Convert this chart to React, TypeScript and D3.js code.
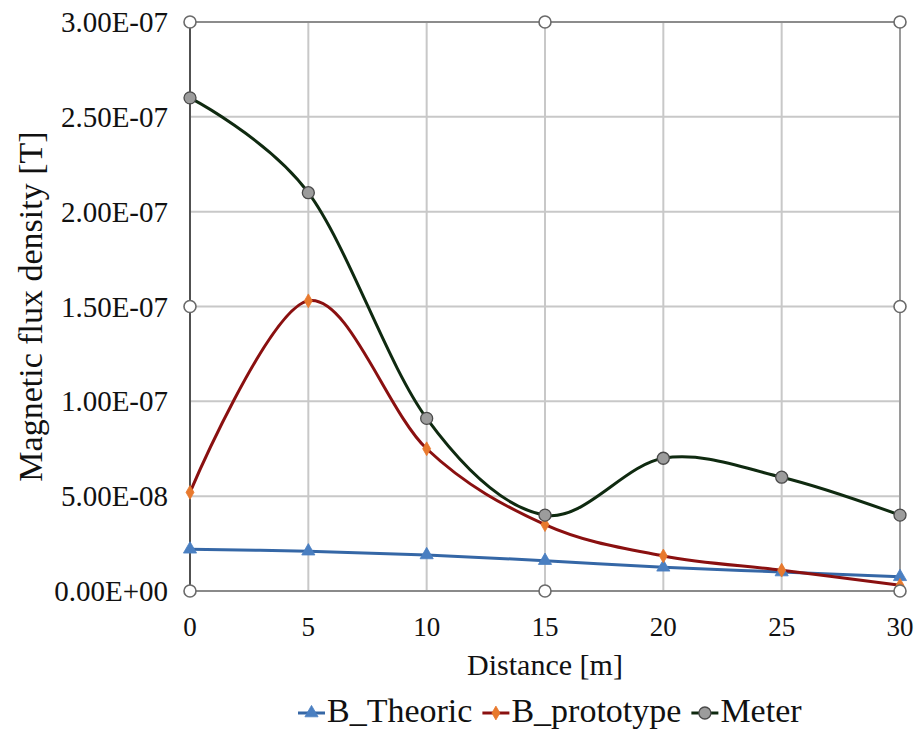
import * as d3 from "d3";

const distances = [0, 5, 10, 15, 20, 25, 30];
const bTheoric = [2.2e-8, 2.1e-8, 1.9e-8, 1.6e-8, 1.25e-8, 1.0e-8, 7.5e-9];
const bPrototype = [5.2e-8, 1.53e-7, 7.5e-8, 3.5e-8, 1.85e-8, 1.1e-8, 3e-9];
const meter = [2.6e-7, 2.1e-7, 9.1e-8, 4.0e-8, 7.0e-8, 6.0e-8, 4.0e-8];

const xTicks = [0, 5, 10, 15, 20, 25, 30];
const yTicks = [0, 5e-8, 1e-7, 1.5e-7, 2e-7, 2.5e-7, 3e-7];

const W = 916;
const H = 733;
const FONT = "Liberation Serif, DejaVu Serif, serif";

// Excel style 0.00E+00
function sci(v: number) {
  if (v === 0) return "0.00E+00";
  const e = Math.floor(Math.log10(Math.abs(v)) + 1e-9);
  const m = v / Math.pow(10, e);
  const sign = e < 0 ? "-" : "+";
  return `${m.toFixed(2)}E${sign}${String(Math.abs(e)).padStart(2, "0")}`;
}

function textWidth(txt: string, size: number) {
  const ctx = document.createElement("canvas").getContext("2d");
  if (!ctx) return txt.length * size * 0.5;
  ctx.font = `${size}px Liberation Serif, serif`;
  return ctx.measureText(txt).width;
}

const series = [
  { name: "B_Theoric", values: bTheoric, line: "#3567a6", fill: "#4a7fc1", marker: "triangle" },
  { name: "B_prototype", values: bPrototype, line: "#8a1010", fill: "#e8792d", marker: "diamond" },
  { name: "Meter", values: meter, line: "#0f2a10", fill: "#9c9c9c", marker: "circle" },
];

function Marker({ kind, x, y, fill }: { kind: string; x: number; y: number; fill: string }) {
  if (kind === "circle") {
    return <circle cx={x} cy={y} r={6} fill={fill} stroke="#4a4a4a" strokeWidth={1.3} />;
  }
  const sym = kind === "triangle" ? d3.symbolTriangle : d3.symbolDiamond;
  const size = kind === "triangle" ? 75 : 55;
  return (
    <path
      d={d3.symbol().type(sym).size(size)() || ""}
      transform={`translate(${x},${y})`}
      fill={fill}
      stroke={fill}
      strokeWidth={0.8}
    />
  );
}

const txt = { fontFamily: FONT, fill: "#111" };

export default function App() {
  const x = d3.scaleLinear().domain([0, 30]).range([190, 900]);
  const y = d3.scaleLinear().domain([0, 3e-7]).range([591, 22]);

  const line = d3
    .line<number>()
    .x((_, i) => x(distances[i]))
    .y((d) => y(d))
    .curve(d3.curveCardinal.tension(0));

  // legend layout
  const legendSize = 34;
  let lx = 298;
  const legendItems = series.map((s) => {
    const item = { ...s, x0: lx, tx: lx + 29 };
    lx += 29 + textWidth(s.name, legendSize) + 10;
    return item;
  });

  const handles: [number, number][] = [
    [0, 0], [15, 0], [30, 0],
    [0, 1.5e-7], [30, 1.5e-7],
    [0, 3e-7], [15, 3e-7], [30, 3e-7],
  ];

  return (
    <div style={{ position: "absolute", left: 0, top: 0 }}>
      <svg width={W} height={H} style={{ display: "block", background: "#fff" }}>
        {/* grid */}
        {yTicks.map((t) => (
          <line key={"gy" + t} x1={x(0)} x2={x(30)} y1={y(t)} y2={y(t)} stroke="#c8c8c8" strokeWidth={2} />
        ))}
        {xTicks.map((t) => (
          <line key={"gx" + t} x1={x(t)} x2={x(t)} y1={y(0)} y2={y(3e-7)} stroke="#c8c8c8" strokeWidth={2} />
        ))}
        <line x1={x(0)} x2={x(30)} y1={y(3e-7)} y2={y(3e-7)} stroke="#8c8c8c" strokeWidth={2} />
        <line x1={x(30)} x2={x(30)} y1={y(0)} y2={y(3e-7)} stroke="#9a9a9a" strokeWidth={2} />
        <line x1={x(0)} x2={x(30)} y1={y(0)} y2={y(0)} stroke="#8a8a8a" strokeWidth={2} />
        <line x1={x(0)} x2={x(0)} y1={y(0)} y2={y(3e-7)} stroke="#333" strokeWidth={1.6} />

        {/* y ticks */}
        {yTicks.map((t) => (
          <text key={"ty" + t} x={168} y={y(t)} textAnchor="end" dominantBaseline="central" fontSize={29} style={txt}>
            {sci(t)}
          </text>
        ))}
        {/* x ticks */}
        {xTicks.map((t) => (
          <text key={"tx" + t} x={x(t)} y={627} textAnchor="middle" dominantBaseline="central" fontSize={27} style={txt}>
            {t}
          </text>
        ))}

        <text x={545} y={675} textAnchor="middle" fontSize={30} style={txt}>
          Distance [m]
        </text>
        <text
          transform={`translate(42,${(y(0) + y(3e-7)) / 2}) rotate(-90)`}
          textAnchor="middle"
          fontSize={34}
          style={txt}
        >
          Magnetic flux density [T]
        </text>

        {/* series */}
        {series.map((s) => (
          <path key={s.name} d={line(s.values) || ""} fill="none" stroke={s.line} strokeWidth={3} />
        ))}
        {series.map((s) =>
          s.values.map((v, i) => (
            <Marker key={s.name + i} kind={s.marker} x={x(distances[i])} y={y(v)} fill={s.fill} />
          ))
        )}

        {/* selection handles */}
        {handles.map(([hx, hy], i) => (
          <circle key={"h" + i} cx={x(hx)} cy={y(hy)} r={6} fill="#fff" stroke="#6a6a6a" strokeWidth={1.6} />
        ))}

        {/* legend */}
        {legendItems.map((s) => (
          <g key={"lg" + s.name}>
            <line x1={s.x0} x2={s.x0 + 27} y1={713} y2={713} stroke={s.line} strokeWidth={3} />
            <Marker kind={s.marker} x={s.x0 + 13.5} y={713} fill={s.fill} />
            <text x={s.tx} y={722} fontSize={legendSize} style={txt}>
              {s.name}
            </text>
          </g>
        ))}
      </svg>
    </div>
  );
}
